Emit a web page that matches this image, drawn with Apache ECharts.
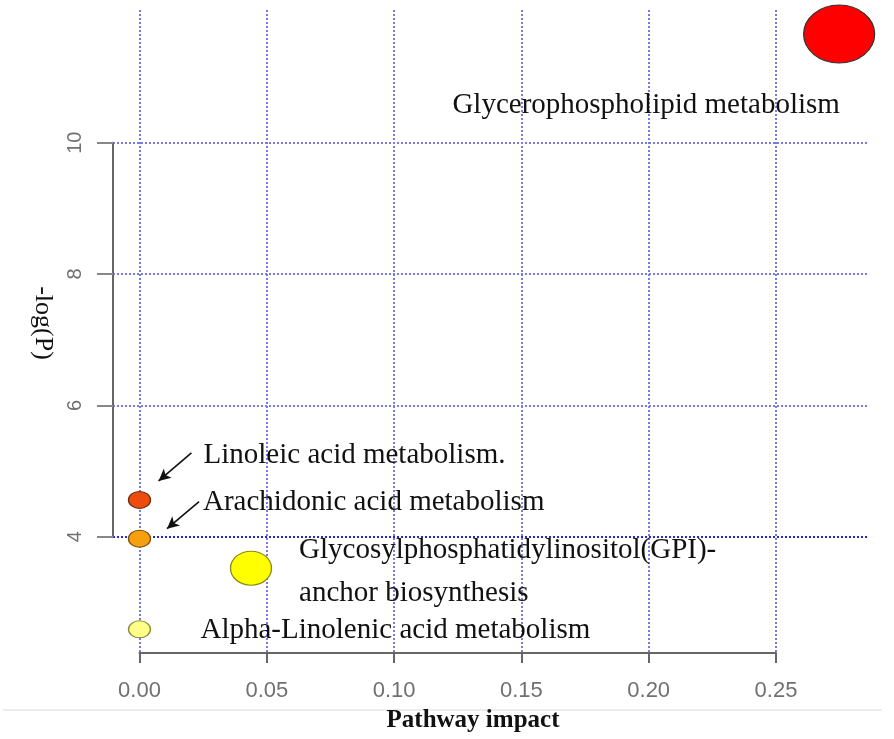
<!DOCTYPE html>
<html>
<head>
<meta charset="utf-8">
<script src="https://cdn.jsdelivr.net/npm/echarts@6/dist/echarts.min.js"></script>
<style>html,body{margin:0;padding:0;background:#fff}#c{width:894px;height:739px}</style>
</head>
<body>
<div id="c"></div>
<script>
// ---- data ----
var pathways = ["Glycerophospholipid metabolism", "Linoleic acid metabolism.", "Arachidonic acid metabolism", "Glycosylphosphatidylinositol(GPI)-\nanchor biosynthesis", "Alpha-Linolenic acid metabolism"];
var impact = [0.2748, 0, 0, 0.0438, 0];
var negLogP = [11.655, 4.56, 3.97, 3.52, 2.59];
var xTicks = [0, 0.05, 0.10, 0.15, 0.20, 0.25];
var yTicks = [4, 6, 8, 10];
var xTitle = "Pathway impact";
var yTitle = "-log(P)";

// ---- styles (not data) ----
var fills = ["#ff0000", "#ee4c0e", "#f5a00c", "#ffff00", "#ffff88"];
var borders = ["#333333", "#6a3010", "#7a5010", "#8a8a10", "#8a8a40"];
var sizes = [[71, 58], [22, 17], [22, 17], [41, 34], [22, 17]];
var labelOffsets = [[-193, 71], [64, -45], [63.5, -36], [48, 3.5], [61, 1]];
var labelAligns = ["center", "left", "left", "left", "left"];
// arrows: [point index, tail dx, tail dy, head dx, head dy] in data units
var arrows = [[1, 0.0204, 0.716, 0.0075, 0.289], [2, 0.0234, 0.563, 0.0108, 0.152]];

var serif = "'Liberation Serif','Times New Roman',serif";
var sans = "'Liberation Sans',Arial,sans-serif";
var grid = "#7a7ae6";

var data = pathways.map(function (p, i) {
  return {
    name: p,
    value: [impact[i], negLogP[i]],
    symbolSize: sizes[i],
    itemStyle: { color: fills[i], borderColor: borders[i], borderWidth: 1.2, opacity: 1 },
    label: {
      show: true, position: "inside", formatter: "{b}", align: labelAligns[i], verticalAlign: "middle",
      offset: labelOffsets[i], color: "#111", opacity: 1, fontFamily: serif, fontSize: 29, lineHeight: 43
    }
  };
});

var arrowLines = arrows.map(function (a) {
  var x = impact[a[0]], y = negLogP[a[0]];
  return [{ coord: [x + a[1], y + a[2]] }, { coord: [x + a[3], y + a[4]] }];
});

var chart = echarts.init(document.getElementById("c"), null, { renderer: "canvas" });
chart.setOption({
  animation: false,
  backgroundColor: "#fff",
  grid: [
    { left: 113, right: 26, top: 10, bottom: 86 },
    { left: 139.5, right: 118, top: 10, bottom: 86 },
    { left: 113, right: 26, top: 142.7, bottom: 202.3 }
  ],
  xAxis: [
    { gridIndex: 0, type: "value", min: -0.01041, max: 0.28614, show: false },
    {
      gridIndex: 1, type: "value", min: xTicks[0], max: xTicks[xTicks.length - 1], interval: 0.05,
      axisLine: { show: true, lineStyle: { color: "#666", width: 2 } },
      axisTick: { show: true, length: 10, lineStyle: { color: "#666", width: 2 } },
      axisLabel: { margin: 27, color: "#707070", fontFamily: sans, fontSize: 22, formatter: function (v) { return v.toFixed(2); } },
      splitLine: { show: true, lineStyle: { color: grid, width: 2, type: [2, 2] } }
    },
    { gridIndex: 2, type: "value", show: false }
  ],
  yAxis: [
    { gridIndex: 0, type: "value", min: 2.229, max: 12.0207, show: false },
    { gridIndex: 1, type: "value", show: false },
    {
      gridIndex: 2, type: "value", min: yTicks[0], max: yTicks[yTicks.length - 1], interval: 2,
      axisLine: { show: true, lineStyle: { color: "#666", width: 2 } },
      axisTick: { show: true, length: 16, lineStyle: { color: "#888", width: 2 } },
      axisLabel: { margin: 28, rotate: 90, color: "#707070", fontFamily: sans, fontSize: 20 },
      splitLine: { show: true, lineStyle: { color: ["#2a2acc", grid, grid, grid], width: 2, type: [2, 2] } }
    }
  ],
  series: [{
    type: "scatter",
    xAxisIndex: 0, yAxisIndex: 0,
    symbol: "circle",
    clip: false,
    data: data,
    z: 5,
    itemStyle: { opacity: 1 },
    emphasis: { disabled: true },
    markLine: {
      silent: true,
      symbol: ["none", "arrow"],
      symbolSize: [9, 12],
      label: { show: false },
      lineStyle: { color: "#111", width: 1.6, type: "solid", opacity: 1 },
      data: arrowLines
    }
  }],
  graphic: [
    { type: "line", shape: { x1: 3, y1: 710, x2: 882, y2: 710 }, style: { stroke: "#e6e6e6", lineWidth: 1.5 }, z: -1 },
    { type: "text", x: 473, y: 721, style: { text: xTitle, font: "bold 25px " + serif, fill: "#111", textAlign: "center", textVerticalAlign: "middle" } },
    { type: "text", x: 43, y: 323, rotation: -Math.PI / 2, style: { text: yTitle, font: "26px " + serif, fill: "#111", textAlign: "center", textVerticalAlign: "middle" } }
  ]
});
</script>
</body>
</html>
